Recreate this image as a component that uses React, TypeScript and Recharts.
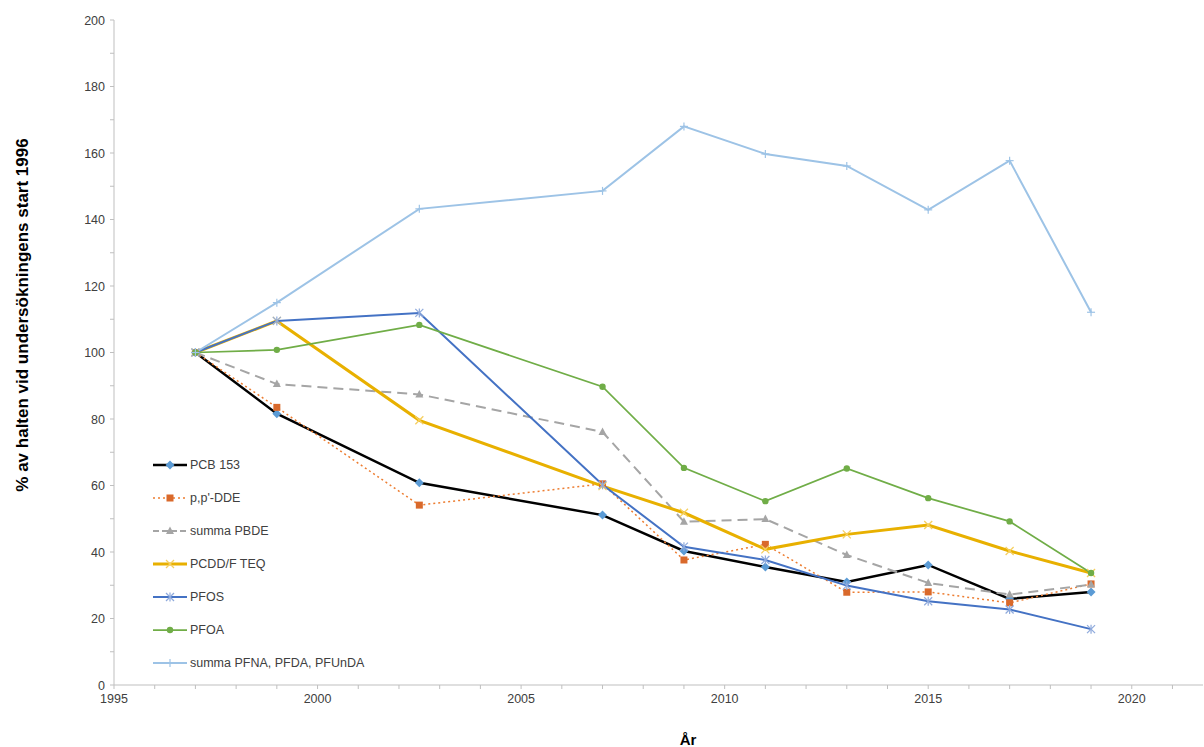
import { LineChart, Line, XAxis, YAxis } from 'recharts';

// sampling years (2002.5 = the 2002/03 campaign)
const years = [1997, 1999, 2002.5, 2007, 2009, 2011, 2013, 2015, 2017, 2019];

const pcb153 = [100, 81.6, 60.8, 51.1, 40.3, 35.5, 31.0, 36.1, 25.9, 28.0];
const ppDDE = [100, 83.5, 54.1, 60.5, 37.6, 42.3, 27.9, 28.0, 24.7, 30.4];
const sumPBDE = [100, 90.5, 87.4, 76.1, 49.1, 49.9, 39.1, 30.7, 27.2, 30.2];
const pcddTEQ = [100, 109.5, 79.6, 59.8, 51.8, 40.8, 45.3, 48.1, 40.3, 33.7];
const pfos = [100, 109.5, 111.9, 60.2, 41.6, 37.6, 29.9, 25.2, 22.7, 16.8];
const pfoa = [100, 100.8, 108.3, 89.7, 65.3, 55.3, 65.1, 56.2, 49.2, 33.7];
const sumPFNA = [100, 115.0, 143.2, 148.6, 168.0, 159.7, 156.1, 142.9, 157.7, 112.1];

const xTicks = [1995, 1996, 1997, 1998, 1999, 2000, 2001, 2002, 2003, 2004, 2005, 2006, 2007, 2008,
  2009, 2010, 2011, 2012, 2013, 2014, 2015, 2016, 2017, 2018, 2019, 2020, 2021];
const yTicks = [0, 10, 20, 30, 40, 50, 60, 70, 80, 90, 100, 110, 120, 130, 140, 150, 160, 170, 180, 190, 200];

const data = years.map((year, i) => ({
  year,
  pcb: pcb153[i],
  dde: ppDDE[i],
  pbde: sumPBDE[i],
  pcdd: pcddTEQ[i],
  pfos: pfos[i],
  pfoa: pfoa[i],
  pfna: sumPFNA[i],
}));

const FONT = '"Liberation Sans", Arial, sans-serif';
const AXIS = '#bfbfbf';
const TEXT = '#404040';

type Shape = 'diamond' | 'square' | 'triangle' | 'x' | 'star' | 'circle' | 'plus';

const series: { key: string; name: string; color: string; width: number; dash?: string; shape: Shape; mark: string }[] = [
  { key: 'pcb', name: 'PCB 153', color: '#000000', width: 2.5, shape: 'diamond', mark: '#5b9bd5' },
  { key: 'dde', name: "p,p'-DDE", color: '#ed7d31', width: 1.5, dash: '2 3', shape: 'square', mark: '#d9692b' },
  { key: 'pbde', name: 'summa PBDE', color: '#a5a5a5', width: 2, dash: '10 6', shape: 'triangle', mark: '#a5a5a5' },
  { key: 'pcdd', name: 'PCDD/F TEQ', color: '#e8b000', width: 3, shape: 'x', mark: '#f5cf60' },
  { key: 'pfos', name: 'PFOS', color: '#4472c4', width: 2, shape: 'star', mark: '#8faadc' },
  { key: 'pfoa', name: 'PFOA', color: '#70ad47', width: 1.75, shape: 'circle', mark: '#70ad47' },
  { key: 'pfna', name: 'summa PFNA, PFDA, PFUnDA', color: '#9dc3e6', width: 2, shape: 'plus', mark: '#9dc3e6' },
];

function Marker({ cx, cy, shape, color }: { cx: number; cy: number; shape: Shape; color: string }) {
  if (cx == null || cy == null) return null;
  switch (shape) {
    case 'diamond':
      return <polygon points={`${cx},${cy - 4.5} ${cx + 4.5},${cy} ${cx},${cy + 4.5} ${cx - 4.5},${cy}`} fill={color} />;
    case 'square':
      return <rect x={cx - 3.5} y={cy - 3.5} width={7} height={7} fill={color} />;
    case 'triangle':
      return <polygon points={`${cx},${cy - 4.5} ${cx + 4},${cy + 3} ${cx - 4},${cy + 3}`} fill={color} />;
    case 'circle':
      return <circle cx={cx} cy={cy} r={3.2} fill={color} />;
    case 'x':
      return (
        <g stroke={color} strokeWidth={1.3}>
          <line x1={cx - 4} y1={cy - 4} x2={cx + 4} y2={cy + 4} />
          <line x1={cx - 4} y1={cy + 4} x2={cx + 4} y2={cy - 4} />
        </g>
      );
    case 'star':
      return (
        <g stroke={color} strokeWidth={1.2}>
          <line x1={cx - 4} y1={cy - 4} x2={cx + 4} y2={cy + 4} />
          <line x1={cx - 4} y1={cy + 4} x2={cx + 4} y2={cy - 4} />
          <line x1={cx} y1={cy - 4.5} x2={cx} y2={cy + 4.5} />
        </g>
      );
    case 'plus':
      return (
        <g stroke={color} strokeWidth={1.2}>
          <line x1={cx - 4} y1={cy} x2={cx + 4} y2={cy} />
          <line x1={cx} y1={cy - 4} x2={cx} y2={cy + 4} />
        </g>
      );
  }
  return null;
}

const XTick = ({ x, y, payload }: any) => {
  if (payload.value % 5 !== 0) return null;
  return (
    <text x={x} y={y} dy={12} textAnchor="middle" fontSize={12.5} fill={TEXT} fontFamily={FONT}>
      {payload.value}
    </text>
  );
};

const YTick = ({ x, y, payload }: any) => {
  if (payload.value % 20 !== 0) return null;
  return (
    <text x={x} y={y} dy={4.5} textAnchor="end" fontSize={12.5} fill={TEXT} fontFamily={FONT}>
      {payload.value}
    </text>
  );
};

const LegendBox = () => (
  <div style={{ position: 'absolute', left: 152, top: 448, fontFamily: FONT, fontSize: 12.5, color: TEXT }}>
    {series.map((s) => (
      <div key={s.key} style={{ display: 'flex', alignItems: 'center', height: 33, whiteSpace: 'nowrap' }}>
        <svg width={36} height={12} style={{ marginRight: 2 }}>
          <line x1={1} y1={6} x2={35} y2={6} stroke={s.color} strokeWidth={s.width} strokeDasharray={s.dash === '10 6' ? '6 3' : s.dash} />
          <Marker cx={18} cy={6} shape={s.shape} color={s.mark} />
        </svg>
        <span>{s.name}</span>
      </div>
    ))}
  </div>
);

export default function App() {
  return (
    <div style={{ position: 'absolute', left: 0, top: 0, width: 1204, height: 747, background: '#fff' }}>
      <LineChart width={1204} height={747} data={data} margin={{ top: 20, right: 1, left: 54, bottom: 32 }}>
        <XAxis
          dataKey="year"
          type="number"
          domain={[1995, 2021.75]}
          ticks={xTicks}
          interval={0}
          allowDataOverflow
          height={30}
          stroke={AXIS}
          tickSize={4}
          tickMargin={2}
          tick={<XTick />}
          label={{
            content: () => (
              <text x={688} y={745} textAnchor="middle" fontSize={15} fontWeight="bold" fill="#000" fontFamily={FONT}>
                År
              </text>
            ),
          }}
        />
        <YAxis
          type="number"
          domain={[0, 200]}
          ticks={yTicks}
          interval={0}
          width={60}
          stroke={AXIS}
          tickSize={4}
          tickMargin={5}
          tick={<YTick />}
          label={{
            content: () => (
              <text
                x={22}
                y={315}
                transform="rotate(-90 22 315)"
                dy={6}
                textAnchor="middle"
                fontSize={17}
                fontWeight="bold"
                fill="#000"
                fontFamily={FONT}
              >
                % av halten vid undersökningens start 1996
              </text>
            ),
          }}
        />
        {series.map((s) => (
          <Line
            key={s.key}
            dataKey={s.key}
            name={s.name}
            type="linear"
            stroke={s.color}
            strokeWidth={s.width}
            strokeDasharray={s.dash}
            isAnimationActive={false}
            activeDot={false}
            dot={(p: any) => <Marker key={`${s.key}-${p.index}`} cx={p.cx} cy={p.cy} shape={s.shape} color={s.mark} />}
          />
        ))}
      </LineChart>
      <LegendBox />
    </div>
  );
}
